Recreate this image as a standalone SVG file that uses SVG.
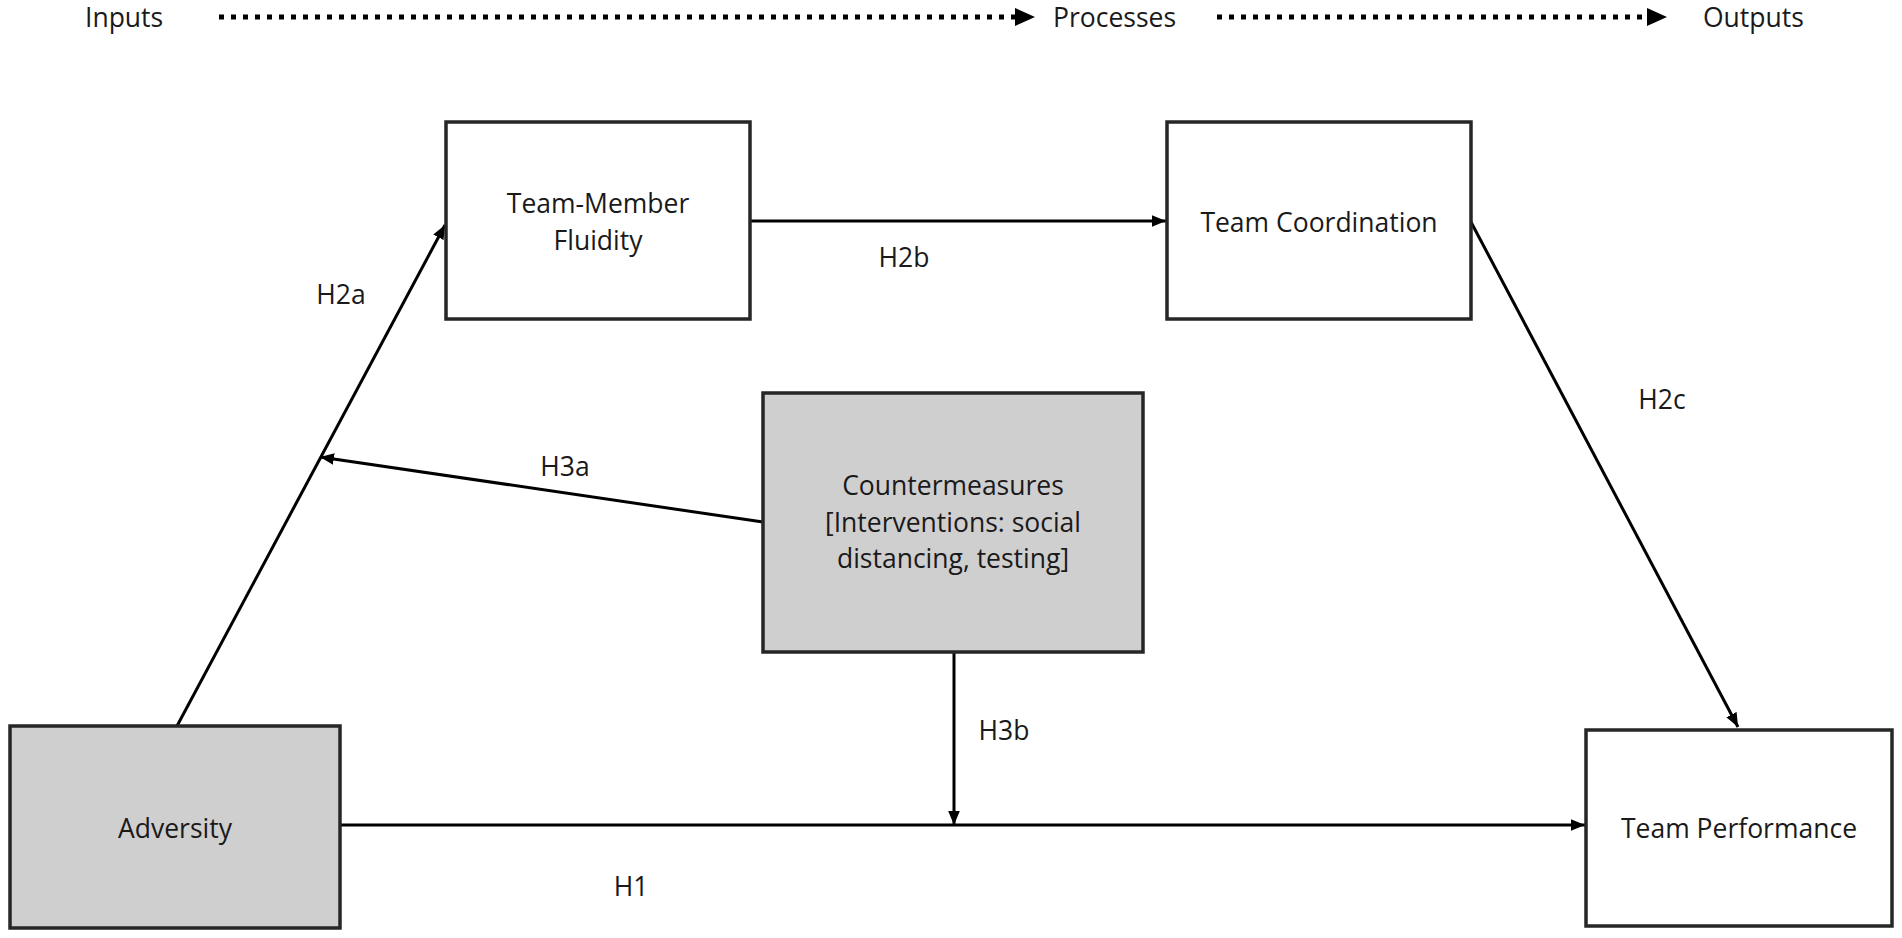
<svg xmlns="http://www.w3.org/2000/svg" width="1902" height="938" viewBox="0 0 1902 938">
<style>
  .box { fill: #ffffff; stroke: #262626; stroke-width: 3.5; }
  .gray { fill: #d0cfd0; }
  .t { font-family: "Open Sans", "Noto Sans", sans-serif; font-size: 26.5px; fill: #1a1a1a; text-anchor: middle; }
  .h { font-family: "Open Sans", "Noto Sans", sans-serif; font-size: 26.5px; fill: #1a1a1a; }
  .c { fill: none; stroke: #000000; stroke-width: 3; marker-end: url(#arr); }
  .dots { fill: none; stroke: #000000; stroke-width: 5; stroke-dasharray: 5 7; }
</style>
<defs>
  <marker id="arr" viewBox="0 0 12 10" refX="12" refY="5" markerWidth="14" markerHeight="12" markerUnits="userSpaceOnUse" orient="auto">
    <path d="M0,0 L12,5 L0,10 z" fill="#000000"/>
  </marker>
</defs>
<rect width="1902" height="938" fill="#ffffff"/>

<g id="header">
  <text class="h" x="85" y="27">Inputs</text>
  <line class="dots" x1="219" y1="17" x2="1015" y2="17"/>
  <path d="M1015,8 L1035,17 L1015,26 z" fill="#000000"/>
  <text class="h" x="1053" y="27">Processes</text>
  <line class="dots" x1="1217" y1="17" x2="1647" y2="17"/>
  <path d="M1647,8 L1667,17 L1647,26 z" fill="#000000"/>
  <text class="h" x="1703" y="27">Outputs</text>
</g>

<g id="connectors">
  <line class="c" x1="177" y1="726" x2="445" y2="225"/>
  <line class="c" x1="750" y1="221" x2="1166" y2="221"/>
  <line class="c" x1="1471" y1="222" x2="1738" y2="727"/>
  <line class="c" x1="763" y1="522" x2="320" y2="457"/>
  <line class="c" x1="954" y1="652" x2="954" y2="825"/>
  <line class="c" x1="340" y1="825" x2="1585" y2="825"/>
</g>

<g id="labels">
  <text class="t" x="341" y="304">H2a</text>
  <text class="t" x="904" y="267">H2b</text>
  <text class="t" x="1662" y="409">H2c</text>
  <text class="t" x="565" y="476">H3a</text>
  <text class="t" x="1004" y="740">H3b</text>
  <text class="t" x="631" y="896">H1</text>
</g>

<g id="node-fluidity">
  <rect class="box" x="446" y="122" width="304" height="197"/>
  <text class="t" x="598" y="213">Team-Member</text>
  <text class="t" x="598" y="250">Fluidity</text>
</g>

<g id="node-coordination">
  <rect class="box" x="1167" y="122" width="304" height="197"/>
  <text class="t" x="1319" y="232">Team Coordination</text>
</g>

<g id="node-countermeasures">
  <rect class="box gray" x="763" y="393" width="380" height="259"/>
  <text class="t" x="953" y="495">Countermeasures</text>
  <text class="t" x="953" y="532">[Interventions: social</text>
  <text class="t" x="953" y="568">distancing, testing]</text>
</g>

<g id="node-adversity">
  <rect class="box gray" x="10" y="726" width="330" height="202"/>
  <text class="t" x="175" y="838">Adversity</text>
</g>

<g id="node-performance">
  <rect class="box" x="1586" y="730" width="306" height="196"/>
  <text class="t" x="1739" y="838">Team Performance</text>
</g>
</svg>
